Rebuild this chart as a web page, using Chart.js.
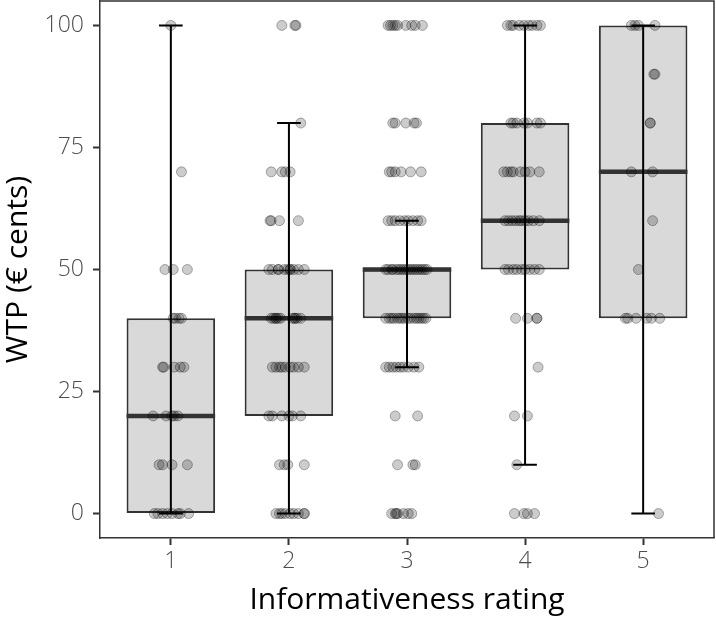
<!DOCTYPE html>
<html>
<head>
<meta charset="utf-8">
<script src="https://cdn.jsdelivr.net/npm/chart.js@4.4.1/dist/chart.umd.min.js"></script>
<style>
  body { margin: 0; background: #fff; }
  canvas { display: block; }
</style>
</head>
<body>
<canvas id="chart" width="716" height="618"></canvas>
<script>
// categories and tick labels
const ratings = [1, 2, 3, 4, 5];
const yTicks = [0, 25, 50, 75, 100];

// box summary per rating
const whiskerLow = [0, 0, 30, 10, 0];
const whiskerHigh = [100, 80, 60, 100, 100];
const boxLow = [0, 20, 40, 50, 40];
const boxHigh = [40, 50, 50, 80, 100];
const medians = [20, 40, 50, 60, 70];

// raw responses (WTP) and their horizontal jitter, per rating
const wtp1 = [100, 70, 50, 50, 50, 40, 40, 40, 40, 30, 30, 30, 30, 30, 20, 20, 20, 20, 20,
  10, 10, 10, 10, 0, 0, 0, 0, 0, 0, 0, 0];
const jit1 = [0, 0.09, -0.05, 0.02, 0.14, 0.02, 0.04, 0.07, 0.09, -0.07, -0.06, 0.03, 0.08, 0.11,
  -0.15, -0.04, 0.01, 0.03, 0.06, -0.10, -0.07, 0.01, 0.14, -0.14, -0.11, -0.07, -0.03, 0.01, 0.06, 0.08, 0.15];

const wtp2 = [100, 100, 100, 80, 70, 70, 70, 70, 60, 60, 60, 60,
  50, 50, 50, 50, 50, 50, 50, 50, 50, 50, 50,
  40, 40, 40, 40, 40, 40, 40, 40, 40, 40, 40,
  30, 30, 30, 30, 30, 30, 30, 30, 30,
  20, 20, 20, 20, 20, 20, 10, 10, 10, 10,
  0, 0, 0, 0, 0, 0, 0, 0, 0];
const jit2 = [-0.06, 0.05, 0.06, 0.10, -0.15, -0.06, -0.03, 0.01, -0.16, -0.15, -0.08, 0.08,
  -0.17, -0.14, -0.09, -0.09, -0.04, -0.01, 0.01, 0.01, 0.04, 0.08, 0.13,
  -0.15, -0.13, -0.11, -0.11, -0.09, -0.07, 0.03, 0.05, 0.05, 0.07, 0.10,
  -0.14, -0.11, -0.08, -0.06, -0.03, 0.01, 0.04, 0.08, 0.13,
  -0.17, -0.14, -0.06, 0, 0.03, 0.10, -0.08, -0.04, -0.01, 0.13,
  -0.11, -0.08, -0.06, -0.03, 0.01, 0.04, 0.08, 0.13, 0.13];

const wtp3 = [100, 100, 100, 100, 100, 100, 100, 100, 100,
  80, 80, 80, 80, 80, 70, 70, 70, 70, 70, 70,
  60, 60, 60, 60, 60, 60, 60, 60, 60,
  50, 50, 50, 50, 50, 50, 50, 50, 50, 50, 50, 50, 50, 50, 50, 50, 50, 50,
  40, 40, 40, 40, 40, 40, 40, 40, 40, 40, 40, 40, 40, 40, 40, 40,
  30, 30, 30, 30, 30, 30, 30, 30, 30,
  20, 20, 10, 10, 10, 0, 0, 0, 0, 0, 0, 0];
const jit3 = [-0.16, -0.14, -0.12, -0.10, -0.08, -0.01, 0.04, 0.07, 0.13,
  -0.12, -0.10, -0.01, 0.06, 0.08, -0.15, -0.13, -0.10, -0.05, 0.03, 0.12,
  -0.16, -0.13, -0.10, -0.06, -0.02, 0.01, 0.05, 0.09, 0.12,
  -0.18, -0.16, -0.13, -0.12, -0.09, -0.07, -0.05, -0.03, -0.01, 0.01, 0.03, 0.05, 0.07, 0.09, 0.11, 0.13, 0.15, 0.17,
  -0.18, -0.15, -0.13, -0.11, -0.08, -0.06, -0.04, -0.02, 0.01, 0.03, 0.06, 0.08, 0.10, 0.12, 0.14, 0.16,
  -0.18, -0.15, -0.12, -0.09, -0.06, -0.03, 0.01, 0.06, 0.10,
  -0.10, 0.09, -0.08, 0.05, 0.07, -0.13, -0.10, -0.09, -0.08, -0.03, 0.01, 0.04];

const wtp4 = [100, 100, 100, 100, 100, 100, 100, 100, 100,
  80, 80, 80, 80, 80, 80, 80,
  70, 70, 70, 70, 70, 70, 70, 70,
  60, 60, 60, 60, 60, 60, 60, 60, 60, 60,
  50, 50, 50, 50, 50, 50, 50, 50, 50,
  40, 40, 40, 40, 30, 20, 20, 10, 0, 0, 0, 0];
const jit4 = [-0.15, -0.12, -0.10, -0.05, -0.01, 0.03, 0.06, 0.10, 0.13,
  -0.12, -0.10, -0.07, -0.01, 0.02, 0.10, 0.13,
  -0.18, -0.15, -0.12, -0.10, -0.04, 0, 0.04, 0.12,
  -0.17, -0.14, -0.11, -0.08, -0.05, -0.03, 0, 0.03, 0.07, 0.12,
  -0.17, -0.14, -0.10, -0.07, -0.03, 0, 0.04, 0.08, 0.12,
  -0.08, 0.02, 0.10, 0.10, 0.11, -0.09, 0.02, -0.07, -0.09, -0.01, 0.02, 0.08];

const wtp5 = [100, 100, 100, 100, 90, 90, 80, 80, 70, 70, 60, 50,
  40, 40, 40, 40, 40, 40, 0];
const jit5 = [-0.10, -0.07, -0.04, 0.10, 0.09, 0.10, 0.06, 0.06, -0.10, 0.08, 0.08, -0.04,
  -0.15, -0.13, -0.06, 0.03, 0.07, 0.14, 0.13];

const wtpGroups = [wtp1, wtp2, wtp3, wtp4, wtp5];
const jitGroups = [jit1, jit2, jit3, jit4, jit5];

const boxHalf = 0.375;
const capHalf = 0.1;
const FONT = "'Open Sans', 'DejaVu Sans', sans-serif";

// points from raw data
const points = [];
ratings.forEach((r, g) => {
  wtpGroups[g].forEach((v, k) => points.push({ x: r + jitGroups[g][k], y: v }));
});

// whisker segments (vertical + caps), separated by gaps
const whiskerPts = [];
ratings.forEach((r, i) => {
  whiskerPts.push({ x: r, y: whiskerLow[i] }, { x: r, y: whiskerHigh[i] }, { x: r, y: null });
  whiskerPts.push({ x: r - capHalf, y: whiskerLow[i] }, { x: r + capHalf, y: whiskerLow[i] }, { x: r, y: null });
  whiskerPts.push({ x: r - capHalf, y: whiskerHigh[i] }, { x: r + capHalf, y: whiskerHigh[i] }, { x: r, y: null });
});

const medianPts = [];
ratings.forEach((r, i) => {
  medianPts.push({ x: r - boxHalf, y: medians[i] }, { x: r + boxHalf, y: medians[i] }, { x: r, y: null });
});

// top and right panel border
const panelBorder = {
  id: 'panelBorder',
  afterDraw(chart) {
    const { ctx, chartArea: a } = chart;
    ctx.save();
    ctx.strokeStyle = '#333';
    ctx.lineWidth = 1.5;
    ctx.beginPath();
    ctx.moveTo(a.left, a.top);
    ctx.lineTo(a.right, a.top);
    ctx.lineTo(a.right, a.bottom);
    ctx.stroke();
    ctx.restore();
  }
};

// fixed axis box sizes, no extra label padding
function fixBox(size, isX) {
  return (s) => {
    if (isX) s.height = size; else s.width = size;
    s.paddingTop = 0; s.paddingBottom = 0; s.paddingLeft = 0; s.paddingRight = 0;
  };
}

new Chart(document.getElementById('chart'), {
  type: 'bar',
  data: {
    datasets: [
      {
        type: 'scatter',
        data: points,
        pointRadius: 5,
        pointBackgroundColor: 'rgba(0,0,0,0.2)',
        pointBorderColor: 'rgba(0,0,0,0.3)',
        pointBorderWidth: 1,
        order: 0
      },
      {
        type: 'line',
        data: whiskerPts,
        borderColor: '#000',
        borderWidth: 2,
        pointRadius: 0,
        spanGaps: false,
        order: 1
      },
      {
        type: 'line',
        data: medianPts,
        borderColor: '#333',
        borderWidth: 4.5,
        borderCapStyle: 'butt',
        pointRadius: 0,
        spanGaps: false,
        order: 2
      },
      {
        type: 'bar',
        data: ratings.map((r, i) => ({ x: r, y: [boxLow[i], boxHigh[i]] })),
        backgroundColor: '#d9d9d9',
        borderColor: '#333',
        borderWidth: 2,
        borderSkipped: false,
        barPercentage: 0.75,
        categoryPercentage: 1,
        order: 3
      }
    ]
  },
  options: {
    responsive: false,
    animation: false,
    layout: { autoPadding: false, padding: { top: 1, right: 2, left: 0, bottom: 0 } },
    plugins: { legend: { display: false }, tooltip: { enabled: false } },
    scales: {
      x: {
        type: 'linear',
        min: 0.4,
        max: 5.6,
        offset: false,
        afterBuildTicks: (axis) => { axis.ticks = ratings.map(v => ({ value: v })); },
        afterFit: fixBox(80, true),
        ticks: { color: '#4d4d4d', font: { family: FONT, size: 23, weight: 300 }, padding: 3 },
        grid: { offset: false, drawOnChartArea: false, tickLength: 7, tickWidth: 2, tickColor: '#333' },
        border: { color: '#333', width: 1.5 },
        title: {
          display: true,
          text: 'Informativeness rating',
          color: '#000',
          font: { family: FONT, size: 30 },
          padding: { top: 0, bottom: 0 }
        }
      },
      y: {
        type: 'linear',
        min: -5,
        max: 105,
        afterBuildTicks: (axis) => { axis.ticks = yTicks.map(v => ({ value: v })); },
        afterFit: fixBox(100, false),
        ticks: { color: '#4d4d4d', font: { family: FONT, size: 23, weight: 300 }, padding: 9 },
        grid: { drawOnChartArea: false, tickLength: 7, tickWidth: 2, tickColor: '#333' },
        border: { color: '#333', width: 1.5 },
        title: {
          display: true,
          text: 'WTP (€ cents)',
          color: '#000',
          font: { family: FONT, size: 30 },
          padding: { top: 0, bottom: 0 }
        }
      }
    }
  },
  plugins: [panelBorder]
});
</script>
</body>
</html>
